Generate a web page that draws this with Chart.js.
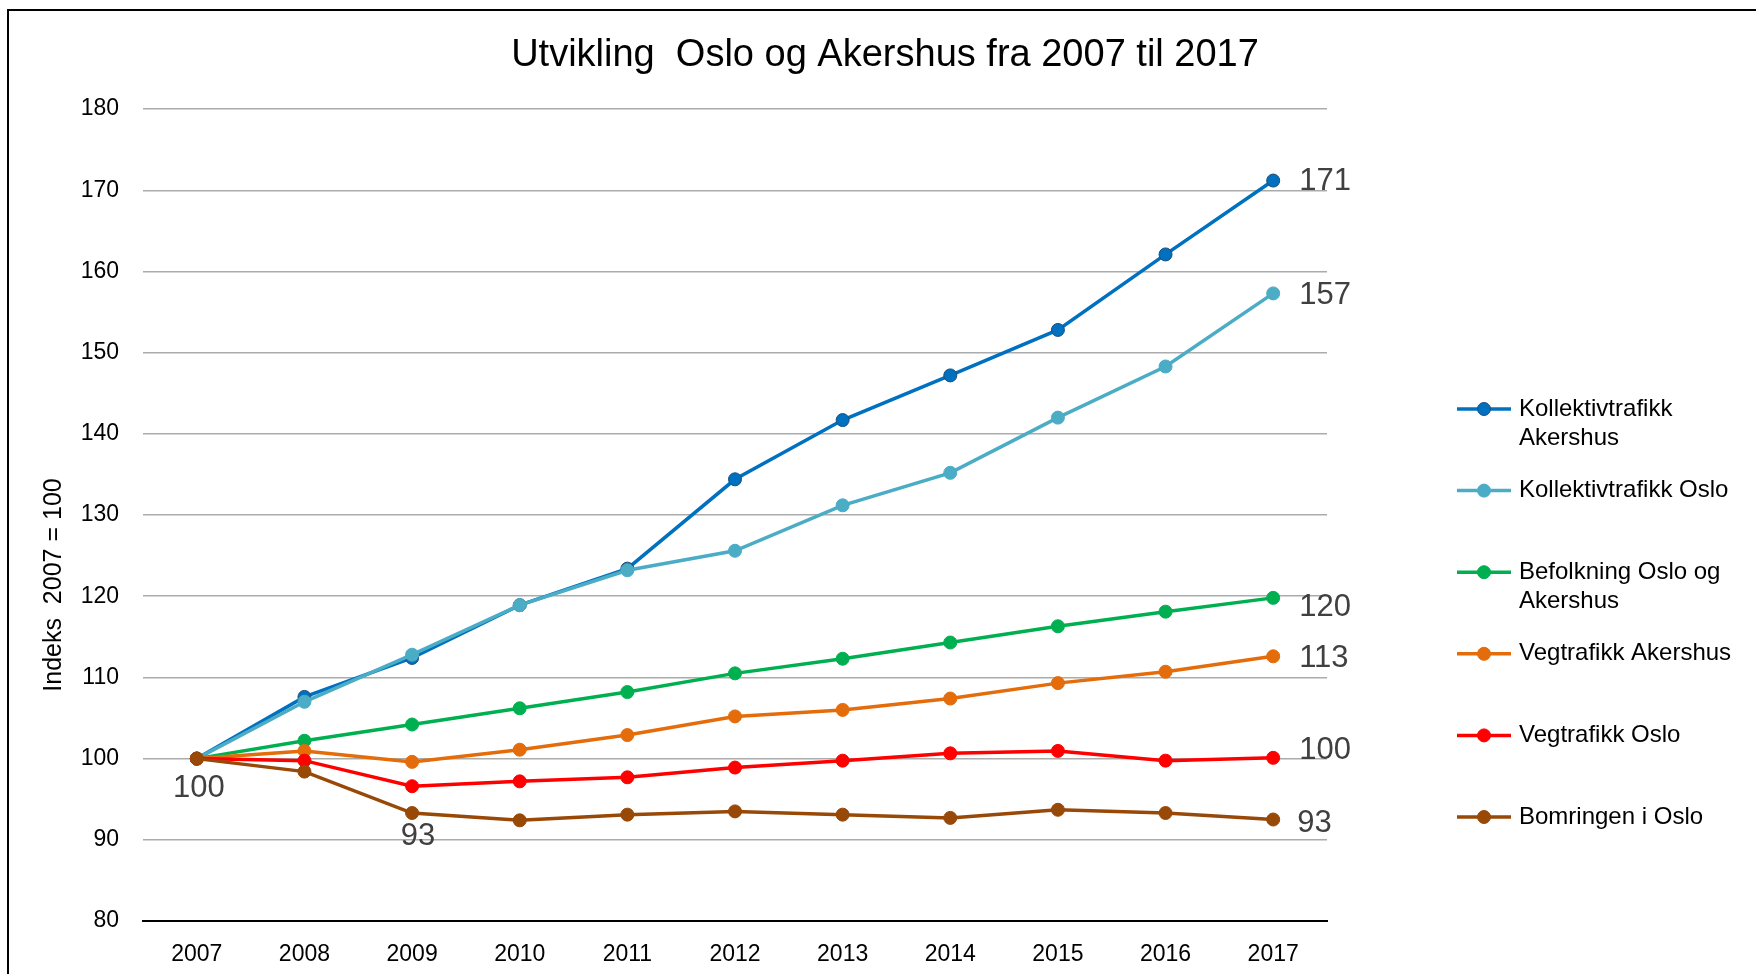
<!DOCTYPE html>
<html>
<head>
<meta charset="utf-8">
<script src="https://cdn.jsdelivr.net/npm/chart.js@4.4.0/dist/chart.umd.min.js"></script>
<style>
html,body{margin:0;padding:0;background:#fff;overflow:hidden}
canvas{display:block}
</style>
</head>
<body>
<canvas id="c" width="1756" height="974"></canvas>
<script>
// ---- data ----
const years = ['2007','2008','2009','2010','2011','2012','2013','2014','2015','2016','2017'];
const kollektivAkershus = [100, 107.6, 112.4, 118.9, 123.4, 134.4, 141.7, 147.2, 152.8, 162.1, 171.2];
const kollektivOslo     = [100, 107.0, 112.8, 118.9, 123.2, 125.6, 131.2, 135.2, 142.0, 148.3, 157.3];
const befolkning        = [100, 102.2, 104.2, 106.2, 108.2, 110.5, 112.3, 114.3, 116.3, 118.1, 119.8];
const vegAkershus       = [100, 100.95, 99.6, 101.1, 102.9, 105.2, 106.0, 107.4, 109.3, 110.7, 112.6];
const vegOslo           = [100, 99.75, 96.6, 97.2, 97.7, 98.9, 99.75, 100.65, 100.95, 99.75, 100.1];
const bomringen         = [100, 98.4, 93.3, 92.4, 93.1, 93.5, 93.1, 92.7, 93.7, 93.3, 92.5];
const seriesNames = ['Kollektivtrafikk Akershus','Kollektivtrafikk Oslo','Befolkning Oslo og Akershus','Vegtrafikk Akershus','Vegtrafikk Oslo','Bomringen i Oslo'];
const yMin = 80, yMax = 180, yStep = 10;
const chartTitle = 'Utvikling  Oslo og Akershus fra 2007 til 2017';
const yTitle = 'Indeks  2007 = 100';

// ---- styles ----
const FONT = "'Liberation Sans', Arial, sans-serif";
const colors = ['#0070C0','#4BACC6','#00B050','#E46C0A','#FF0000','#984807'];
const pointBorders = ['#1F4E79','#4BACC6','#00B050','#E46C0A','#FF0000','#984807'];
const seriesData = [kollektivAkershus, kollektivOslo, befolkning, vegAkershus, vegOslo, bomringen];

// which points carry value labels: [dataset, index, dx, dy, align]
const valueLabels = [
  [0, 10, 26, 1, 'left'],
  [1, 10, 26, 2, 'left'],
  [2, 10, 26, 10, 'left'],
  [3, 10, 26, 2, 'left'],
  [4, 10, 26, -7, 'left'],
  [5, 10, 24, 4, 'left'],
  [5, 0, 2, 30, 'center'],
  [5, 2, 6, 23, 'center']
];

const datasets = seriesNames.map((name, i) => ({
  label: name,
  data: seriesData[i],
  borderColor: colors[i],
  backgroundColor: colors[i],
  pointBackgroundColor: colors[i],
  pointBorderColor: pointBorders[i],
  pointBorderWidth: 1,
  pointRadius: 6.5,
  pointHoverRadius: 6.5,
  borderWidth: 3.5,
  tension: 0,
  yAxisID: 'y',
  order: seriesNames.length - 1 - i
}));

const framePlugin = {
  id: 'frame',
  beforeDraw(chart) {
    const ctx = chart.ctx;
    ctx.save();
    ctx.fillStyle = '#fff';
    ctx.fillRect(0, 0, chart.width, chart.height);
    ctx.strokeStyle = '#000';
    ctx.lineWidth = 2;
    ctx.beginPath();
    ctx.moveTo(8, chart.height + 5);
    ctx.lineTo(8, 10);
    ctx.lineTo(chart.width + 5, 10);
    ctx.stroke();
    ctx.restore();
  }
};

const extrasPlugin = {
  id: 'extras',
  afterDatasetsDraw(chart) {
    const ctx = chart.ctx;
    ctx.save();
    // value labels
    ctx.font = '31px ' + FONT;
    ctx.fillStyle = '#404040';
    ctx.textBaseline = 'middle';
    valueLabels.forEach(([ds, idx, dx, dy, align]) => {
      const pt = chart.getDatasetMeta(ds).data[idx];
      ctx.textAlign = align;
      ctx.fillText(String(Math.round(chart.data.datasets[ds].data[idx])), pt.x + dx, pt.y + dy);
    });
    // y axis title
    ctx.save();
    ctx.translate(54, 585);
    ctx.rotate(-Math.PI / 2);
    ctx.font = '25px ' + FONT;
    ctx.fillStyle = '#000';
    ctx.textAlign = 'center';
    ctx.textBaseline = 'middle';
    ctx.fillText(yTitle, 0, 0);
    ctx.restore();
    // legend
    const lx0 = 1457, lx1 = 1511, tx = 1519, y0 = 409, rowStep = 81.6, lineH = 29, maxW = 234;
    ctx.font = '24px ' + FONT;
    ctx.textAlign = 'left';
    ctx.textBaseline = 'middle';
    chart.data.datasets.forEach((d, i) => {
      const y = y0 + i * rowStep;
      ctx.strokeStyle = d.borderColor;
      ctx.lineWidth = 3.5;
      ctx.beginPath(); ctx.moveTo(lx0, y); ctx.lineTo(lx1, y); ctx.stroke();
      ctx.beginPath(); ctx.arc((lx0 + lx1) / 2, y, 6.5, 0, Math.PI * 2);
      ctx.fillStyle = d.pointBackgroundColor; ctx.fill();
      ctx.lineWidth = 1; ctx.strokeStyle = d.pointBorderColor; ctx.stroke();
      const words = d.label.split(' ');
      const lines = [];
      let cur = '';
      words.forEach(w => {
        const t = cur ? cur + ' ' + w : w;
        if (ctx.measureText(t).width > maxW && cur) { lines.push(cur); cur = w; } else cur = t;
      });
      if (cur) lines.push(cur);
      ctx.fillStyle = '#000';
      lines.forEach((ln, k) => ctx.fillText(ln, tx, y + k * lineH));
    });
    ctx.restore();
  }
};

new Chart(document.getElementById('c'), {
  type: 'line',
  data: { labels: years, datasets },
  options: {
    responsive: false,
    devicePixelRatio: 1,
    animation: false,
    events: [],
    layout: { padding: { left: 14, right: 0, top: 0, bottom: 0 } },
    plugins: {
      legend: { display: false },
      tooltip: { enabled: false },
      title: {
        display: true,
        text: chartTitle,
        color: '#000',
        font: { family: FONT, size: 38, weight: 'normal', lineHeight: 1.2 },
        padding: { top: 33, bottom: 30.5 }
      }
    },
    scales: {
      x: {
        type: 'category',
        offset: true,
        grid: { display: false, drawTicks: false },
        border: { display: true, color: '#000', width: 2 },
        ticks: { color: '#000', font: { family: FONT, size: 23 }, padding: 20, maxRotation: 0, autoSkip: false },
        afterFit(scale) { scale.height = 53; }
      },
      y: {
        position: 'left',
        min: yMin, max: yMax,
        grid: { color: '#ABABAB', lineWidth: 1.5, drawTicks: false },
        border: { display: false },
        ticks: { stepSize: yStep, color: '#000', font: { family: FONT, size: 23 }, padding: 24 },
        afterFit(scale) { scale.width = 129; }
      },
      legendSpace: {
        position: 'right',
        min: yMin, max: yMax,
        display: true,
        grid: { display: false, drawTicks: false },
        border: { display: false },
        ticks: { display: false },
        afterFit(scale) { scale.width = 429; }
      }
    }
  },
  plugins: [framePlugin, extrasPlugin]
});
</script>
</body>
</html>
